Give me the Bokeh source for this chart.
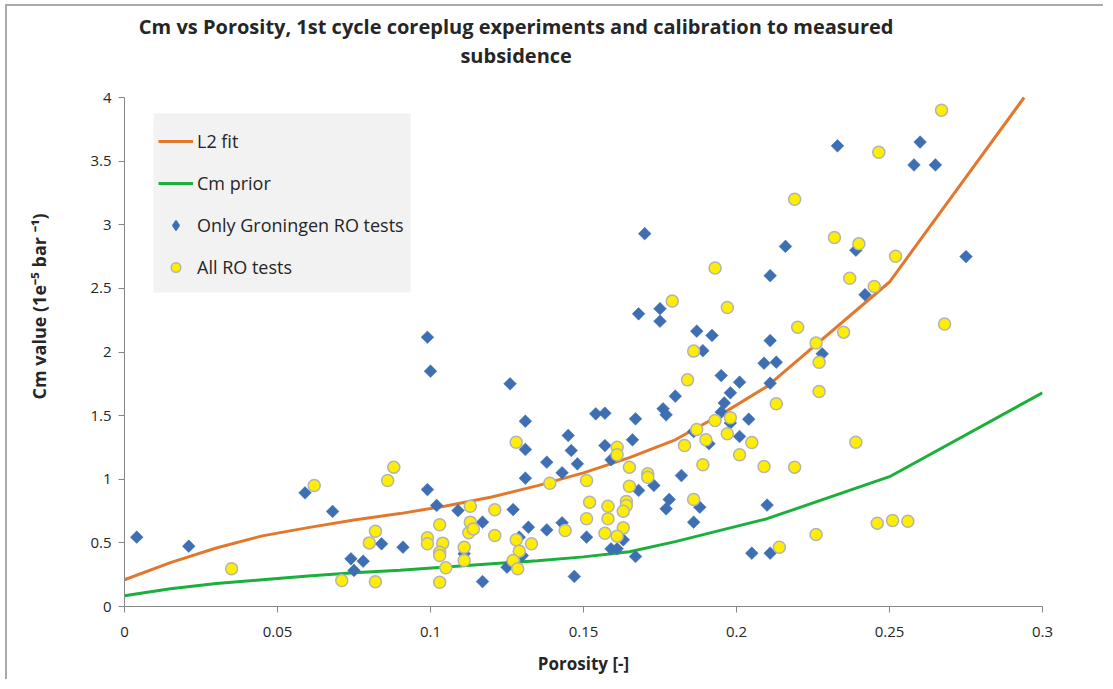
import math
from bokeh.plotting import figure
from bokeh.models import FixedTicker, Label, BoxAnnotation, Legend, LegendItem, Range1d
from bokeh.embed import file_html
from bokeh.resources import INLINE

# ---- data ----
fit_porosity = [0, 0.015, 0.03, 0.045, 0.06, 0.075, 0.09, 0.105, 0.12, 0.135,
                0.15, 0.165, 0.18, 0.195, 0.21, 0.25, 0.294]
l2_fit = [0.21, 0.345, 0.46, 0.555, 0.62, 0.68, 0.73, 0.79, 0.86, 0.95,
          1.05, 1.17, 1.31, 1.51, 1.73, 2.55, 4.0]
prior_porosity = [0, 0.015, 0.03, 0.045, 0.06, 0.075, 0.09, 0.105, 0.12, 0.135,
                  0.15, 0.165, 0.18, 0.195, 0.21, 0.25, 0.3]
cm_prior = [0.085, 0.14, 0.18, 0.21, 0.24, 0.265, 0.285, 0.31, 0.335, 0.36,
            0.39, 0.43, 0.51, 0.60, 0.69, 1.02, 1.68]

gron_porosity = [0.004, 0.021, 0.059, 0.068, 0.074, 0.075, 0.078, 0.084, 0.091, 0.099,
                 0.100, 0.099, 0.102, 0.109, 0.117, 0.117, 0.111, 0.126, 0.131, 0.131,
                 0.131, 0.127, 0.132, 0.129, 0.125, 0.130, 0.138, 0.138, 0.143, 0.143,
                 0.145, 0.146, 0.148, 0.147, 0.151, 0.154, 0.157, 0.157, 0.159, 0.159,
                 0.161, 0.163, 0.166, 0.167, 0.167, 0.168, 0.168, 0.173, 0.175, 0.175,
                 0.176, 0.177, 0.180, 0.182, 0.178, 0.177, 0.186, 0.187, 0.188, 0.186,
                 0.170, 0.233, 0.260, 0.258, 0.265, 0.216, 0.211, 0.239, 0.242, 0.275,
                 0.192, 0.189, 0.211, 0.228, 0.209, 0.213, 0.195, 0.201, 0.211, 0.198,
                 0.196, 0.195, 0.198, 0.204, 0.191, 0.201, 0.210, 0.205, 0.211]
gron_cm = [0.545, 0.474, 0.893, 0.747, 0.375, 0.283, 0.356, 0.493, 0.466, 2.116,
           1.849, 0.919, 0.794, 0.754, 0.663, 0.196, 0.414, 1.75, 1.456, 1.234,
           1.008, 0.762, 0.623, 0.545, 0.309, 0.40, 1.134, 0.602, 1.051, 0.658,
           1.344, 1.226, 1.121, 0.236, 0.545, 1.514, 1.519, 1.265, 1.153, 0.453,
           0.453, 0.524, 1.31, 1.475, 0.393, 2.30, 0.912, 0.951, 2.34, 2.242,
           1.554, 1.506, 1.653, 1.029, 0.841, 0.768, 0.663, 2.164, 0.78, 1.375,
           2.93, 3.62, 3.65, 3.47, 3.47, 2.83, 2.60, 2.80, 2.45, 2.75,
           2.13, 2.01, 2.09, 1.986, 1.912, 1.92, 1.815, 1.763, 1.755, 1.679,
           1.60, 1.527, 1.443, 1.472, 1.279, 1.336, 0.797, 0.419, 0.419]

all_porosity = [0.035, 0.062, 0.086, 0.088, 0.082, 0.080, 0.071, 0.082, 0.099, 0.099,
                0.103, 0.104, 0.103, 0.103, 0.105, 0.103, 0.113, 0.113, 0.1125, 0.114,
                0.111, 0.111, 0.121, 0.121, 0.128, 0.128, 0.129, 0.127, 0.1285, 0.133,
                0.139, 0.144, 0.151, 0.152, 0.151, 0.158, 0.158, 0.157, 0.161, 0.161,
                0.165, 0.165, 0.164, 0.164, 0.163, 0.163, 0.161, 0.171, 0.171, 0.184,
                0.186, 0.187, 0.183, 0.186, 0.2465, 0.219, 0.232, 0.240, 0.193, 0.237,
                0.245, 0.197, 0.220, 0.235, 0.226, 0.267, 0.252, 0.268, 0.227, 0.227,
                0.213, 0.193, 0.198, 0.197, 0.190, 0.205, 0.201, 0.189, 0.209, 0.219,
                0.239, 0.226, 0.214, 0.246, 0.251, 0.256, 0.179]
all_cm = [0.296, 0.951, 0.990, 1.095, 0.592, 0.50, 0.204, 0.194, 0.54, 0.493,
          0.642, 0.498, 0.427, 0.40, 0.304, 0.191, 0.788, 0.663, 0.579, 0.61,
          0.466, 0.361, 0.76, 0.558, 1.291, 0.524, 0.435, 0.361, 0.296, 0.493,
          0.969, 0.597, 0.99, 0.82, 0.689, 0.788, 0.689, 0.576, 1.252, 1.192,
          1.095, 0.945, 0.825, 0.794, 0.749, 0.618, 0.553, 1.043, 1.016, 1.781,
          2.007, 1.391, 1.265, 0.841, 3.57, 3.20, 2.90, 2.85, 2.66, 2.58,
          2.515, 2.35, 2.195, 2.156, 2.07, 3.90, 2.753, 2.22, 1.92, 1.69,
          1.593, 1.462, 1.483, 1.357, 1.31, 1.289, 1.192, 1.114, 1.10, 1.095,
          1.291, 0.566, 0.466, 0.655, 0.676, 0.67, 2.40]

x_ticks = [0, 0.05, 0.1, 0.15, 0.2, 0.25, 0.3]
x_tick_labels = ["0", "0.05", "0.1", "0.15", "0.2", "0.25", "0.3"]
y_ticks = [0, 0.5, 1, 1.5, 2, 2.5, 3, 3.5, 4]
y_tick_labels = ["0", "0.5", "1", "1.5", "2", "2.5", "3", "3.5", "4"]

title_lines = ["Cm vs Porosity, 1st cycle coreplug experiments and calibration to measured",
               "subsidence"]
series_names = ["L2 fit", "Cm prior", "Only Groningen RO tests", "All RO tests"]

FONT = "Open Sans"
AXIS_GREY = "#868686"
TEXT = "#262626"
BLUE = "#3e6fb3"

# frame spans from the chart border down to the x axis; the y axis line is bounded to 0..4
Y_TOP = 600 / 127.25

p = figure(width=1098, height=675, output_backend="svg", toolbar_location=None,
           x_range=Range1d(0, 0.3), y_range=Range1d(0, Y_TOP),
           min_border_left=117, min_border_right=63, min_border_top=0, min_border_bottom=75,
           margin=(4, 0, 0, 5),
           styles={"border-top": "2px solid #a9a9a9", "border-left": "2px solid #a9a9a9"})
p.outline_line_color = None
p.xgrid.grid_line_color = None
p.ygrid.grid_line_color = None
p.background_fill_color = "white"
p.border_fill_color = "white"

for ax in (p.xaxis[0], p.yaxis[0]):
    ax.axis_line_color = AXIS_GREY
    ax.major_tick_line_color = AXIS_GREY
    ax.major_tick_in = 0
    ax.major_tick_out = 6
    ax.minor_tick_line_color = None
    ax.major_label_text_font = FONT
    ax.major_label_text_color = TEXT
    ax.axis_label_text_font = FONT
    ax.axis_label_text_font_style = "bold"
    ax.axis_label_text_color = TEXT

p.xaxis.ticker = FixedTicker(ticks=x_ticks)
p.xaxis.major_label_overrides = {t: l for t, l in zip(x_ticks, x_tick_labels)}
p.xaxis.major_label_text_font_size = "15px"
p.xaxis.major_label_standoff = 14
p.xaxis.axis_label = "Porosity [-]"
p.xaxis.axis_label_text_font_size = "17px"
p.xaxis.axis_label_standoff = 12

p.yaxis.ticker = FixedTicker(ticks=y_ticks)
p.yaxis.bounds = (y_ticks[0], y_ticks[-1])
p.yaxis.major_label_overrides = {t: l for t, l in zip(y_ticks, y_tick_labels)}
p.yaxis.major_label_text_font_size = "15px"
p.yaxis.major_label_standoff = 7
p.yaxis.axis_label = "Cm value (1e\u207b\u2075 bar \u207b\u00b9)"
p.yaxis.axis_label_text_font_size = "18px"
p.yaxis.axis_label_standoff = 36

# legend background box
p.add_layout(BoxAnnotation(left=0.0095, right=0.0935, bottom=2.468, top=3.874,
                           fill_color="#f2f2f2", fill_alpha=1, line_color=None, level="underlay"))

r_fit = p.line(fit_porosity, l2_fit, line_color="#e2782c", line_width=3)
r_prior = p.line(prior_porosity, cm_prior, line_color="#1bb03c", line_width=3)
r_gron = p.scatter(gron_porosity, gron_cm, marker="square", size=9, angle=math.pi / 4,
                   fill_color=BLUE, line_color=BLUE, line_width=0.5)
r_all = p.scatter(all_porosity, all_cm, marker="circle", size=12,
                  fill_color="#ffee00", line_color="#b3b3b3", line_width=1.5)
# legend swatch for the diamond series (legend glyphs are never rotated); hidden in the plot
r_gron_key = p.scatter(gron_porosity, gron_cm, marker="diamond", size=12,
                       fill_color=BLUE, line_color=BLUE, line_width=1.5, visible=False)

legend = Legend(items=[LegendItem(label=series_names[0], renderers=[r_fit]),
                       LegendItem(label=series_names[1], renderers=[r_prior]),
                       LegendItem(label=series_names[2], renderers=[r_gron_key]),
                       LegendItem(label=series_names[3], renderers=[r_all])],
                location=(34, 327), padding=5, margin=0, spacing=18,
                glyph_width=35, glyph_height=24, label_height=24, label_standoff=4,
                label_text_font=FONT, label_text_font_size="18px", label_text_color=TEXT,
                background_fill_alpha=0, border_line_color=None,
                inactive_fill_alpha=0)
p.add_layout(legend)

for line_text, y_pos in zip(title_lines, [4.558, 4.330]):
    p.add_layout(Label(x=0.128, y=y_pos, text=line_text, text_align="center",
                       text_baseline="middle", text_font=FONT, text_font_style="bold",
                       text_font_size="20px", text_color=TEXT))

open("out.html", "w").write(file_html(p, INLINE))
